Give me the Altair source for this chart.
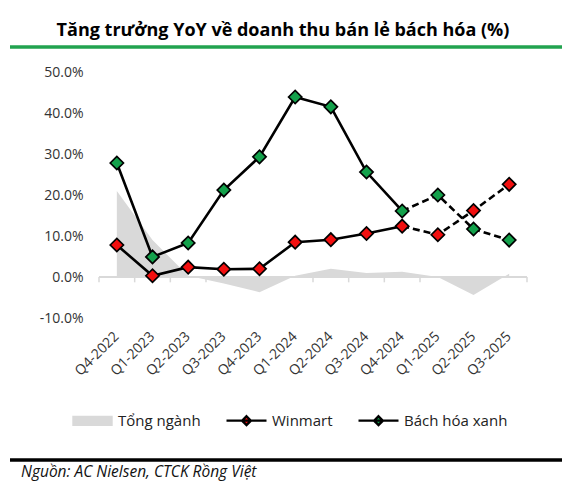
import altair as alt
import pandas as pd

quarters = ["Q4-2022", "Q1-2023", "Q2-2023", "Q3-2023", "Q4-2023", "Q1-2024",
            "Q2-2024", "Q3-2024", "Q4-2024", "Q1-2025", "Q2-2025", "Q3-2025"]
industry = [21.0, 9.0, 0.3, -1.6, -3.7, 0.3, 2.0, 1.0, 1.3, 0.0, -4.4, 0.8]
winmart = [7.8, 0.3, 2.4, 1.9, 2.0, 8.5, 9.1, 10.6, 12.4, 10.3, 16.2, 22.6]
bhx = [27.8, 4.9, 8.3, 21.2, 29.3, 43.9, 41.5, 25.6, 16.1, 20.0, 11.7, 9.0]
series_names = ["Tổng ngành", "Winmart", "Bách hóa xanh"]
title_text = "Tăng trưởng YoY về doanh thu bán lẻ bách hóa (%)"
source_text = "Nguồn: AC Nielsen, CTCK Rồng Việt"

FONT = "Open Sans"
RED = "#f20f0f"
GREEN = "#13a14b"
GRAY = "#d9d9d9"
W, H = 428, 246

wide = pd.DataFrame({"q": quarters, "idx": list(range(len(quarters))), "industry": industry})
rows = []
for i, q in enumerate(quarters):
    rows.append({"q": q, "idx": i, "series": "Winmart", "value": winmart[i]})
    rows.append({"q": q, "idx": i, "series": "Bách hóa xanh", "value": bhx[i]})
long = pd.DataFrame(rows)

x_scale = alt.Scale(type="band", domain=quarters, paddingInner=0, paddingOuter=0)
x_axis = alt.Axis(title=None, labelAngle=-45, labelAlign="right", labelBaseline="middle",
                  domain=False, ticks=False, grid=False, labelPadding=16,
                  labelFont=FONT, labelFontSize=14, labelColor="#333333")
y_scale = alt.Scale(domain=[-10, 50], nice=False, zero=False)
y_axis = alt.Axis(title=None, values=[-10, 0, 10, 20, 30, 40, 50], domain=False, ticks=False,
                  grid=False, labelPadding=16, labelFont=FONT, labelFontSize=14,
                  labelColor="#333333",
                  labelExpr="replace(format(datum.value, '.1f'), '\u2212', '-') + '%'")


def X(band=0.5):
    return alt.X("q:N", sort=quarters, scale=x_scale, axis=x_axis, bandPosition=band)


area = alt.Chart(wide).mark_area(color=GRAY).encode(
    x=X(), y=alt.Y("industry:Q", scale=y_scale, axis=y_axis))

zero = alt.Chart(wide).mark_rule(color=GRAY, strokeWidth=2).encode(
    y=alt.datum(0, scale=y_scale, axis=y_axis))

ticks = alt.Chart(wide).mark_rule(color=GRAY, strokeWidth=1.5).encode(
    x=X(0), y=alt.datum(0), y2=alt.datum(-1.3))
ticks_end = alt.Chart(wide).transform_filter(f"datum.idx == {len(quarters) - 1}").mark_rule(
    color=GRAY, strokeWidth=1.5).encode(x=X(1), y=alt.datum(0), y2=alt.datum(-1.3))

solid = alt.Chart(long).transform_filter("datum.idx <= 8").mark_line(
    color="black", strokeWidth=2.6).encode(
    x=X(), y=alt.Y("value:Q", scale=y_scale, axis=y_axis),
    detail="series:N", order="idx:Q")
dashed = alt.Chart(long).transform_filter("datum.idx >= 8").mark_line(
    color="black", strokeWidth=2.6, strokeDash=[7, 4]).encode(
    x=X(), y=alt.Y("value:Q", scale=y_scale, axis=y_axis),
    detail="series:N", order="idx:Q")

points = alt.Chart(long).mark_point(shape="diamond", filled=True, size=175, stroke="black",
                                    strokeWidth=1.7, opacity=1).encode(
    x=X(), y=alt.Y("value:Q", scale=y_scale, axis=y_axis),
    color=alt.Color("series:N", scale=alt.Scale(domain=series_names[1:], range=[RED, GREEN]),
                    legend=None))

rect_path = "M-0.95,-0.2H0.95V0.2H-0.95Z"
line_path = "M-1,0H1M0,-0.22L0.22,0L0,0.22L-0.22,0Z"
legend_df = pd.DataFrame({"series": series_names})
legend = alt.Chart(legend_df).transform_filter("false").mark_point(filled=True, opacity=1).encode(
    fill=alt.Fill("series:N", scale=alt.Scale(domain=series_names, range=[GRAY, RED, GREEN]),
                  legend=alt.Legend(orient="none", legendX=-28, legendY=327,
                                    direction="horizontal", title=None, symbolSize=1600,
                                    symbolStrokeWidth=2.4, symbolOpacity=1,
                                    labelFont=FONT, labelFontSize=15,
                                    labelColor="#222222", labelOffset=4, columnPadding=20,
                                    padding=0)),
    shape=alt.Shape("series:N", scale=alt.Scale(domain=series_names,
                                                range=[rect_path, line_path, line_path])),
    stroke=alt.Stroke("series:N", scale=alt.Scale(domain=series_names,
                                                  range=[GRAY, "black", "black"])),
)

one = alt.Data(values=[{"a": 1}])
title = alt.Chart(one).mark_text(text=title_text, font=FONT, fontSize=18, fontWeight="bold",
                                 align="center", baseline="alphabetic", color="#000000").encode(
    x=alt.value(184), y=alt.value(-36))
green_line = alt.Chart(one).mark_rule(color="#22a34f", strokeWidth=3.5).encode(
    x=alt.value(-89), x2=alt.value(463), y=alt.value(-25))
black_line = alt.Chart(one).mark_rule(color="black", strokeWidth=3.5).encode(
    x=alt.value(-89), x2=alt.value(463), y=alt.value(388))
source = alt.Chart(one).mark_text(text=source_text, font=FONT, fontSize=15.5, fontStyle="italic",
                                  align="left", baseline="alphabetic", color="#111111").encode(
    x=alt.value(-78), y=alt.value(405))

chart = alt.layer(area, zero, ticks, ticks_end, solid, dashed, points, legend,
                  title, green_line, black_line, source).resolve_scale(
    color="independent").properties(
    width=W, height=H,
    autosize=alt.AutoSizeParams(type="none"),
    padding={"left": 91, "top": 64, "right": 40, "bottom": 170},
).configure_view(stroke=None)

chart.save("out.html", embed_options={"renderer": "svg", "actions": False})
